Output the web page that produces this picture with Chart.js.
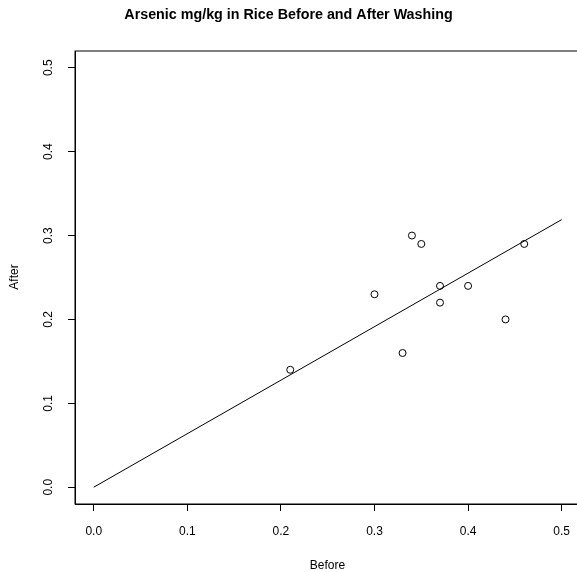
<!DOCTYPE html>
<html>
<head>
<meta charset="utf-8">
<script src="https://cdn.jsdelivr.net/npm/chart.js@4"></script>
<style>
  html, body { margin: 0; padding: 0; overflow: hidden; background: #fff; }
  #caja { width: 582px; height: 572px; }
  canvas { display: block; }
</style>
</head>
<body>
<div id="caja"><canvas id="graficoArsenico" width="582" height="572" style="width:582px;height:572px"></canvas></div>
<script>
// datos
const before = [0.21, 0.30, 0.33, 0.34, 0.35, 0.37, 0.37, 0.40, 0.44, 0.46];
const after  = [0.14, 0.23, 0.16, 0.30, 0.29, 0.24, 0.22, 0.24, 0.20, 0.29];
const lineaX = [0.0, 0.5];
const lineaY = [0.0, 0.319];
const ticksX = [0.0, 0.1, 0.2, 0.3, 0.4, 0.5];
const ticksY = [0.0, 0.1, 0.2, 0.3, 0.4, 0.5];

const fuente = '"Liberation Sans", Arial, Helvetica, sans-serif';

const puntos = before.map((b, i) => ({ x: b, y: after[i] }));
const linea = lineaX.map((x, i) => ({ x: x, y: lineaY[i] }));

// caja, titulo y etiquetas estilo R
const estiloR = {
    id: 'estiloR',
    afterDraw(chart) {
        const c = chart.ctx;
        const a = chart.chartArea;
        const sx = chart.scales.x;
        const sy = chart.scales.y;
        c.save();
        c.strokeStyle = '#000';
        c.lineWidth = 1;
        c.strokeRect(a.left, a.top, a.right - a.left, a.bottom - a.top);

        c.fillStyle = '#000';
        c.textAlign = 'center';
        c.textBaseline = 'middle';

        c.font = 'bold 14.3px ' + fuente;
        c.fillText('Arsenic mg/kg in Rice Before and After Washing', 288.5, 15);

        c.font = '12px ' + fuente;
        ticksX.forEach(v => {
            c.fillText(v.toFixed(1), sx.getPixelForValue(v), 532);
        });
        ticksY.forEach(v => {
            c.save();
            c.translate(49, sy.getPixelForValue(v));
            c.rotate(-Math.PI / 2);
            c.fillText(v.toFixed(1), 0, 0);
            c.restore();
        });

        c.fillText('Before', 327.5, 566);
        c.save();
        c.translate(15, 277);
        c.rotate(-Math.PI / 2);
        c.fillText('After', 0, 0);
        c.restore();
        c.restore();
    }
};

new Chart(document.getElementById('graficoArsenico'), {
    type: 'scatter',
    data: {
        datasets: [{
            label: 'Arsenic',
            data: puntos,
            pointStyle: 'circle',
            pointRadius: 3.5,
            pointHoverRadius: 3.5,
            borderColor: '#000',
            borderWidth: 1,
            backgroundColor: 'rgba(0,0,0,0)'
        }, {
            type: 'line',
            label: 'Ajuste',
            data: linea,
            borderColor: '#000',
            borderWidth: 1,
            pointRadius: 0,
            fill: false,
            tension: 0
        }]
    },
    options: {
        responsive: false,
        animation: false,
        events: [],
        layout: {
            // la caja de R se sale un poco por la derecha
            autoPadding: false,
            padding: { top: 51, right: 1.6, left: 0, bottom: 0 }
        },
        plugins: {
            legend: { display: false },
            title: { display: false },
            tooltip: { enabled: false }
        },
        scales: {
            x: {
                type: 'linear',
                min: -0.02,
                max: 0.52,
                afterBuildTicks: s => { s.ticks = ticksX.map(v => ({ value: v })); },
                afterFit: s => { s.height = 68; },
                ticks: { display: false },
                grid: {
                    drawOnChartArea: false,
                    drawTicks: true,
                    tickLength: 7,
                    color: '#000',
                    lineWidth: 1
                },
                border: { display: true, color: '#000' }
            },
            y: {
                type: 'linear',
                min: -0.02,
                max: 0.52,
                afterBuildTicks: s => { s.ticks = ticksY.map(v => ({ value: v })); },
                afterFit: s => { s.width = 75; },
                ticks: { display: false },
                grid: {
                    drawOnChartArea: false,
                    drawTicks: true,
                    tickLength: 7,
                    color: '#000',
                    lineWidth: 1
                },
                border: { display: true, color: '#000' }
            }
        }
    },
    plugins: [estiloR]
});
</script>
</body>
</html>
